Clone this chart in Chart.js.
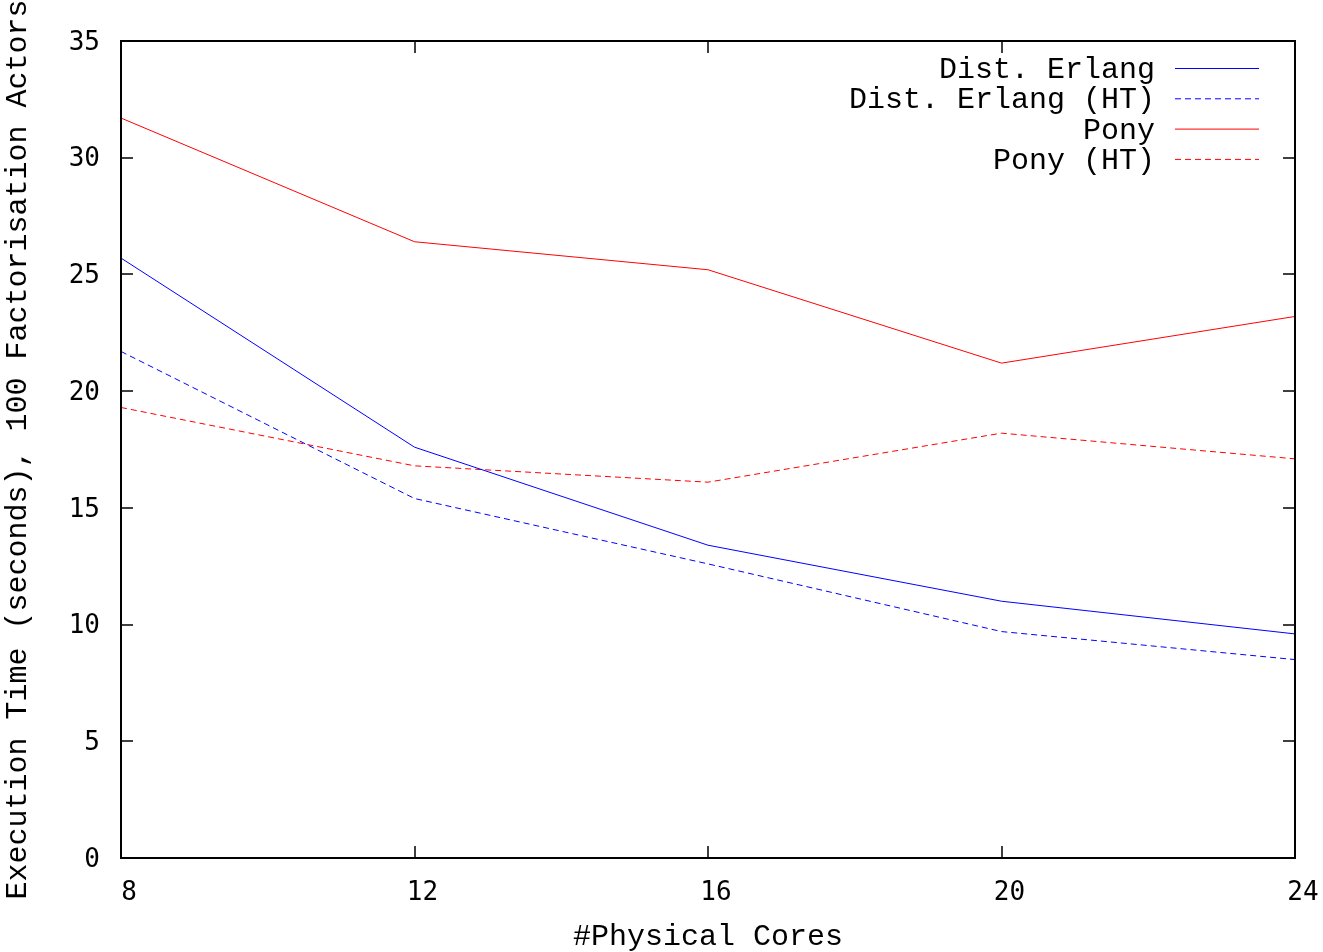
<!DOCTYPE html>
<html lang="en">
<head>
    <meta charset="UTF-8">
    <title>Execution Time</title>
    <script src="https://cdn.jsdelivr.net/npm/chart.js"></script>
    <style>
        html, body { margin: 0; padding: 0; background: #fff; }
        #wrap { width: 1323px; height: 952px; }
    </style>
</head>

<body>
    <div id="wrap"><canvas id="timeChart" width="1323" height="952"></canvas></div>

    <script>
        // data
        const cores = [8, 12, 16, 20, 24];
        const erlang = [25.7, 17.6, 13.4, 11.0, 9.6];
        const erlangHT = [21.7, 15.4, 12.6, 9.7, 8.5];
        const pony = [31.7, 26.4, 25.2, 21.2, 23.2];
        const ponyHT = [19.3, 16.8, 16.1, 18.2, 17.1];
        const xTicks = [8, 12, 16, 20, 24];
        const yTicks = [0, 5, 10, 15, 20, 25, 30, 35];

        const monoFont = "'Liberation Mono', 'Courier New', monospace";

        function toPoints(ys) {
            return cores.map((c, i) => ({ x: c, y: ys[i] }));
        }

        // gnuplot style frame with inward ticks on all four sides
        const framePlugin = {
            id: 'frame',
            afterDatasetsDraw(chart) {
                const ctx = chart.ctx;
                const a = chart.chartArea;
                const xs = chart.scales.x, ys = chart.scales.y;
                const len = 12;
                ctx.save();
                ctx.strokeStyle = '#000';
                ctx.lineWidth = 1.5;
                ctx.beginPath();
                xTicks.forEach(v => {
                    const px = Math.round(xs.getPixelForValue(v));
                    ctx.moveTo(px, a.bottom); ctx.lineTo(px, a.bottom - len);
                    ctx.moveTo(px, a.top); ctx.lineTo(px, a.top + len);
                });
                yTicks.forEach(v => {
                    const py = Math.round(ys.getPixelForValue(v));
                    ctx.moveTo(a.left, py); ctx.lineTo(a.left + len, py);
                    ctx.moveTo(a.right, py); ctx.lineTo(a.right - len, py);
                });
                ctx.stroke();
                ctx.lineWidth = 2;
                ctx.strokeRect(a.left, a.top, a.right - a.left, a.bottom - a.top);
                ctx.restore();
            }
        };

        // key in the top right corner: text right-aligned, sample line after it
        const keyPlugin = {
            id: 'key',
            afterDraw(chart) {
                const ctx = chart.ctx;
                ctx.save();
                ctx.font = '30px ' + monoFont;
                ctx.textAlign = 'right';
                ctx.textBaseline = 'middle';
                chart.data.datasets.forEach((ds, i) => {
                    const y = 68 + i * 30.3;
                    ctx.fillStyle = '#000';
                    ctx.fillText(ds.label, 1155, y + 2);
                    ctx.strokeStyle = ds.borderColor;
                    ctx.lineWidth = 1;
                    ctx.setLineDash(ds.borderDash || []);
                    ctx.beginPath();
                    ctx.moveTo(1175, y + 0.5);
                    ctx.lineTo(1259, y + 0.5);
                    ctx.stroke();
                });
                ctx.restore();
            }
        };

        const ctx = document.getElementById('timeChart').getContext('2d');
        const timeChart = new Chart(ctx, {
            type: 'line',
            data: {
                datasets: [
                    { label: 'Dist. Erlang', data: toPoints(erlang), borderColor: '#0000ff', borderWidth: 1 },
                    { label: 'Dist. Erlang (HT)', data: toPoints(erlangHT), borderColor: '#0000ff', borderWidth: 1, borderDash: [6, 4] },
                    { label: 'Pony', data: toPoints(pony), borderColor: '#ff0000', borderWidth: 1 },
                    { label: 'Pony (HT)', data: toPoints(ponyHT), borderColor: '#ff0000', borderWidth: 1, borderDash: [6, 4] },
                ]
            },
            options: {
                responsive: false,
                animation: false,
                devicePixelRatio: 1,
                elements: { point: { radius: 0 }, line: { tension: 0 } },
                layout: { padding: { left: 0, top: 41, right: 28, bottom: 0 } },
                plugins: {
                    legend: { display: false },
                    tooltip: { enabled: false }
                },
                scales: {
                    x: {
                        type: 'linear',
                        min: 8,
                        max: 24,
                        afterFit: s => {
                            s.height = 94;
                            s.paddingLeft = 0;
                            s.paddingRight = 0;
                        },
                        afterBuildTicks: s => { s.ticks = xTicks.map(v => ({ value: v })); },
                        grid: { display: false, drawTicks: false },
                        border: { display: false },
                        ticks: {
                            color: '#000',
                            padding: 20,
                            labelOffset: 8,
                            maxRotation: 0,
                            font: { family: "'DejaVu Sans Mono', monospace", size: 26 }
                        },
                        title: {
                            display: true,
                            text: '#Physical Cores',
                            color: '#000',
                            padding: { top: 0, bottom: -3 },
                            font: { family: monoFont, size: 30 }
                        }
                    },
                    y: {
                        min: 0,
                        max: 35,
                        afterFit: s => {
                            s.width = 121;
                            s.paddingTop = 0;
                            s.paddingBottom = 0;
                        },
                        afterBuildTicks: s => { s.ticks = yTicks.map(v => ({ value: v })); },
                        grid: { display: false, drawTicks: false },
                        border: { display: false },
                        ticks: {
                            color: '#000',
                            padding: 21,
                            labelOffset: 2,
                            font: { family: "'DejaVu Sans Mono', monospace", size: 26 }
                        },
                        title: {
                            display: true,
                            text: 'Execution Time (seconds), 100 Factorisation Actors',
                            color: '#000',
                            padding: 0,
                            font: { family: monoFont, size: 30 }
                        }
                    }
                }
            },
            plugins: [framePlugin, keyPlugin]
        });
    </script>
</body>
</html>
